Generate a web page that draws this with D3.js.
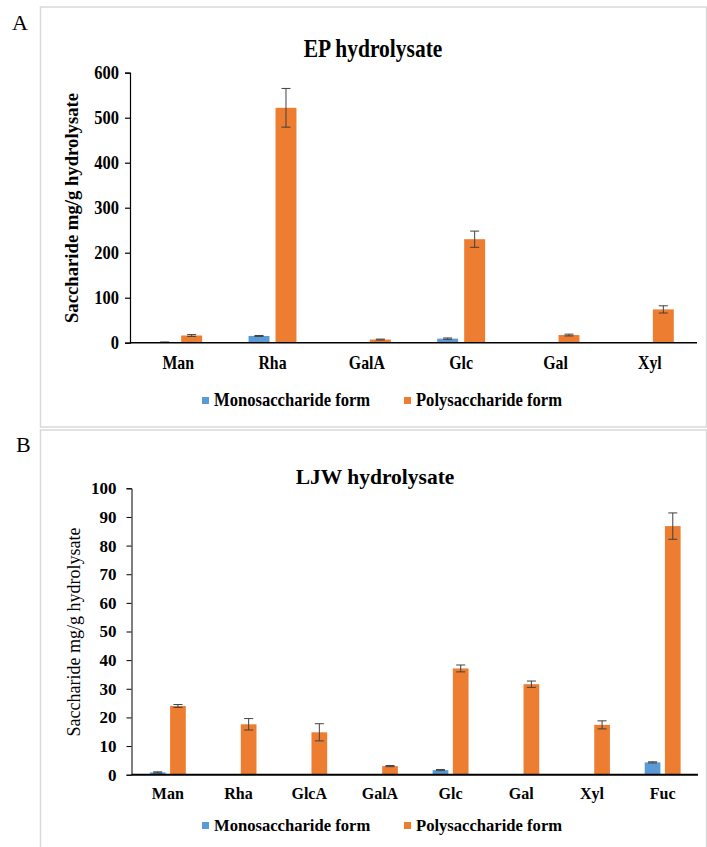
<!DOCTYPE html>
<html>
<head>
<meta charset="utf-8">
<script src="https://cdn.jsdelivr.net/npm/d3@7/dist/d3.min.js"></script>
<style>
  body { margin: 0; background: #fff; }
  svg text { font-family: "Liberation Serif", "Times New Roman", serif; fill: #000; }
  .tall { transform-box: fill-box; transform-origin: center; transform: scaleY(1.18); }
</style>
</head>
<body>
<div id="graph"></div>
<script>
var series = ['Monosaccharide form', 'Polysaccharide form']
var colors = ['#5b9bd5', '#ed7d31']

// panel A - EP hydrolysate
var catsA = ['Man', 'Rha', 'GalA', 'Glc', 'Gal', 'Xyl']
var monoA = [1, 15, 0, 9, 0, 0]
var monoErrA = [0.5, 1, 0, 1.5, 0, 0]
var polyA = [16, 522, 7, 230, 17, 74]
var polyErrA = [2, 43, 1, 18, 2, 8]
var ticksA = [0, 100, 200, 300, 400, 500, 600]

// panel B - LJW hydrolysate
var catsB = ['Man', 'Rha', 'GlcA', 'GalA', 'Glc', 'Gal', 'Xyl', 'Fuc']
var monoB = [0.8, 0, 0, 0, 1.6, 0, 0, 4.3]
var monoErrB = [0.2, 0, 0, 0, 0.2, 0, 0, 0.2]
var polyB = [24.0, 17.6, 14.8, 3.0, 37.1, 31.6, 17.4, 86.8]
var polyErrB = [0.5, 2.0, 3.0, 0.2, 1.2, 1.1, 1.4, 4.6]
var ticksB = [0, 10, 20, 30, 40, 50, 60, 70, 80, 90, 100]

var svg = d3.select('#graph').append('svg')
  .attr('width', 707).attr('height', 847)

function panel(o){
  var g = svg.append('g')
  var tcls = o.tall ? 'tall' : null

  g.append('rect')
    .attr('x', 40.5).attr('y', o.box[0]).attr('width', 666).attr('height', o.box[1])
    .attr('fill', 'none').attr('stroke', '#d9d9d9').attr('stroke-width', 1.5)

  g.append('text').text(o.letter)
    .attr('x', o.letterPos[0]).attr('y', o.letterPos[1])
    .style('font-size', '22px')

  g.append('text').text(o.title)
    .attr('class', tcls)
    .attr('x', o.titlePos[0]).attr('y', o.titlePos[1])
    .attr('text-anchor', 'middle')
    .style('font-size', o.titleSize + 'px').style('font-weight', 'bold')

  var x0 = d3.scaleBand().domain(o.cats).range(o.xr).padding(0)
  var bw = x0.bandwidth()
  var x1 = d3.scaleBand().domain(series).range([bw * 0.246, bw * 0.754]).paddingInner(0.224)
  var y = d3.scaleLinear().domain([0, o.ticks[o.ticks.length - 1]]).range(o.yr)

  var rows = []
  o.cats.forEach(function(c, i){
    rows.push({cat: c, s: series[0], v: o.mono[i], e: o.monoErr[i], col: colors[0]})
    rows.push({cat: c, s: series[1], v: o.poly[i], e: o.polyErr[i], col: colors[1]})
  })
  rows = rows.filter(d => d.v > 0)

  g.selectAll('rect.bar').data(rows).enter().append('rect')
    .attr('class', 'bar')
    .attr('x', d => x0(d.cat) + x1(d.s))
    .attr('width', x1.bandwidth())
    .attr('y', d => y(d.v))
    .attr('height', d => y(0) - y(d.v))
    .attr('fill', d => d.col)

  // error bars
  var eb = g.selectAll('g.err').data(rows).enter().append('g')
    .attr('class', 'err')
    .attr('transform', d => 'translate(' + (x0(d.cat) + x1(d.s) + x1.bandwidth() / 2) + ',0)')
    .attr('stroke', '#404040').attr('stroke-width', 1)
  eb.append('line').attr('y1', d => y(d.v + d.e)).attr('y2', d => y(d.v - d.e))
  eb.append('line').attr('x1', -o.cap).attr('x2', o.cap).attr('y1', d => y(d.v + d.e)).attr('y2', d => y(d.v + d.e))
  eb.append('line').attr('x1', -o.cap).attr('x2', o.cap).attr('y1', d => y(d.v - d.e)).attr('y2', d => y(d.v - d.e))

  var ya = g.append('g')
    .attr('transform', 'translate(' + (o.xr[0] - 1) + ',0)')
    .call(d3.axisLeft(y).tickValues(o.ticks).tickSize(5).tickPadding(o.yPad).tickFormat(d3.format('d')))
  ya.selectAll('path, line').attr('stroke', '#000').attr('stroke-width', o.yStroke)
  ya.selectAll('text').attr('class', tcls)
    .style('font-size', o.tickSize + 'px').style('font-weight', 'bold').style('font-family', null)

  var xa = g.append('g')
    .attr('transform', 'translate(0,' + o.yr[0] + ')')
    .call(d3.axisBottom(x0).tickSize(0).tickSizeOuter(0).tickPadding(o.xPad))
  xa.select('path').attr('stroke', '#000').attr('stroke-width', o.xStroke)
    .attr('d', 'M' + (o.xr[0] - 1) + ',0H' + o.xr[1])
  xa.selectAll('text').attr('class', tcls)
    .style('font-size', o.catSize + 'px').style('font-weight', 'bold').style('font-family', null)

  g.append('text').text('Saccharide mg/g hydrolysate')
    .attr('transform', 'translate(' + o.ylab[0] + ',' + o.ylab[1] + ') rotate(-90)')
    .attr('text-anchor', 'middle')
    .style('font-size', o.ylabSize + 'px').style('font-weight', o.ylabWeight)

  // legend
  var lg = g.selectAll('g.lg').data(series).enter().append('g')
    .attr('class', 'lg')
    .attr('transform', (d, i) => 'translate(' + [202, 404][i] + ',' + o.legY + ')')
  lg.append('rect').attr('y', -8.5).attr('width', 7).attr('height', 7).attr('fill', (d, i) => colors[i])
  lg.append('text').text(d => d)
    .attr('class', tcls)
    .attr('x', 12).attr('y', 0)
    .style('font-size', '16.6px').style('font-weight', 'bold')
}

panel({
  letter: 'A', letterPos: [12, 30], box: [7, 420],
  title: 'EP hydrolysate', titlePos: [373, 56], titleSize: 21.5, tall: true,
  cats: catsA, mono: monoA, monoErr: monoErrA, poly: polyA, polyErr: polyErrA, ticks: ticksA,
  xr: [131, 697], yr: [342.7, 72.7], cap: 4.5,
  yPad: 6, tickSize: 16.5, yStroke: 1.2,
  xPad: 14, catSize: 15.8, xStroke: 1.5,
  ylab: [78, 208], ylabSize: 18.7, ylabWeight: 'bold',
  legY: 405.5
})

panel({
  letter: 'B', letterPos: [16, 451.5], box: [430, 430],
  title: 'LJW hydrolysate', titlePos: [375, 484], titleSize: 21.5, tall: false,
  cats: catsB, mono: monoB, monoErr: monoErrB, poly: polyB, polyErr: polyErrB, ticks: ticksB,
  xr: [132.5, 698], yr: [774.7, 488.3], cap: 4.5,
  yPad: 10, tickSize: 17, yStroke: 1,
  xPad: 13, catSize: 16, xStroke: 2,
  ylab: [80, 632], ylabSize: 18, ylabWeight: 'normal',
  legY: 830.5
})
</script>
</body>
</html>
